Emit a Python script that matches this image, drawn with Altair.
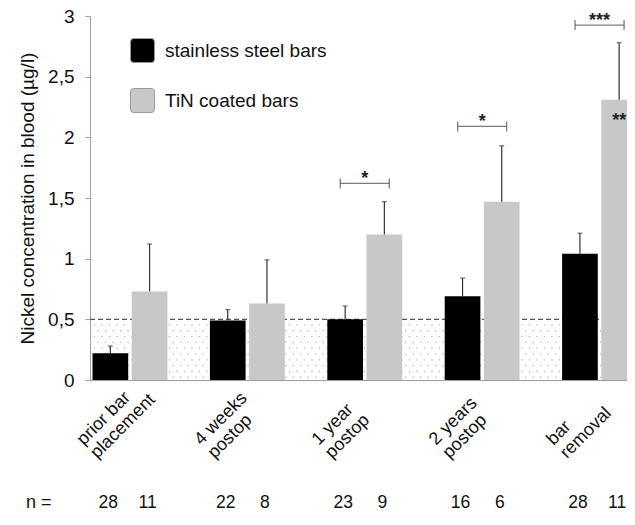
import altair as alt
import pandas as pd

# ---------------- data ----------------
groups = ["prior bar\nplacement", "4 weeks\npostop", "1 year\npostop",
          "2 years\npostop", "bar\nremoval"]
series = ["stainless steel bars", "TiN coated bars"]

steel_mean = [0.22, 0.49, 0.50, 0.69, 1.04]
steel_upper = [0.28, 0.58, 0.61, 0.84, 1.21]
tin_mean = [0.73, 0.63, 1.20, 1.47, 2.31]
tin_upper = [1.12, 0.99, 1.47, 1.93, 2.78]
steel_n = [28, 22, 23, 16, 28]
tin_n = [11, 8, 9, 6, 11]

threshold = [0.5]

sig_groups = ["1 year\npostop", "2 years\npostop", "bar\nremoval"]
sig_y = [1.62, 2.09, 2.925]
sig_text = ["*", "*", "***"]

inner_group = ["bar\nremoval"]
inner_series = ["TiN coated bars"]
inner_y = [2.09]
inner_text = ["**"]

y_ticks = [0, 0.5, 1, 1.5, 2, 2.5, 3]
y_title = "Nickel concentration in blood (µg/l)"

# ---------------- tables ----------------
bars = pd.DataFrame({
    "group": groups + groups,
    "series": [series[0]] * len(groups) + [series[1]] * len(groups),
    "mean": steel_mean + tin_mean,
    "upper": steel_upper + tin_upper,
    "n": steel_n + tin_n,
})
sig = pd.DataFrame({"group": sig_groups, "y": sig_y, "text": sig_text})
inner = pd.DataFrame({"group": inner_group, "series": inner_series,
                      "y": inner_y, "text": inner_text})
thr = pd.DataFrame({"y": threshold})
cats = pd.DataFrame({"group": groups})

FONT = "Liberation Sans"
W, H = 537, 364
XR = 547  # the x range runs past the right edge, as the reference is cropped

xs = alt.Scale(domain=groups, range=[0, XR], paddingInner=0.362,
               paddingOuter=0.0107, align=1)
xos = alt.Scale(domain=series, paddingInner=0.09, paddingOuter=0)
ys = alt.Scale(domain=[0, 3], nice=False, zero=True)

X = alt.X("group:N", scale=xs, sort=groups,
          axis=alt.Axis(labels=False, ticks=False, title=None, grid=False,
                        domainColor="#a0a0a0", domainWidth=1))
XO = alt.XOffset("series:N", scale=xos, sort=series)
Y = alt.Y("mean:Q", scale=ys,
          axis=alt.Axis(values=y_ticks, grid=False,
                        labelExpr="replace(toString(datum.value), '.', ',')",
                        labelFont=FONT, labelFontSize=19, labelColor="#111",
                        labelPadding=11, tickSize=5, tickColor="#a0a0a0",
                        domainColor="#a0a0a0", title=y_title,
                        titleFont=FONT, titleFontSize=19,
                        titleFontWeight="normal", titleColor="#111",
                        titlePadding=10))

# dotted texture below the 0.5 threshold
dots_a = alt.Chart(alt.sequence(0.022, 0.5, 0.096)).mark_rule(
    color="#b8b8b8", strokeWidth=1.3, strokeDash=[1.3, 6.2]
).encode(x=alt.value(0), x2=alt.value(XR), y=alt.Y("data:Q", scale=ys))
dots_b = alt.Chart(alt.sequence(0.07, 0.5, 0.096)).mark_rule(
    color="#b8b8b8", strokeWidth=1.3, strokeDash=[1.3, 6.2], strokeDashOffset=3.7
).encode(x=alt.value(0), x2=alt.value(XR), y=alt.Y("data:Q", scale=ys))

thr_line = alt.Chart(thr).mark_rule(
    color="#555", strokeWidth=1.1, strokeDash=[5, 3]
).encode(x=alt.value(0), x2=alt.value(XR), y=alt.Y("y:Q", scale=ys))

rounded = ("M-1,-0.72Q-1,-1,-0.72,-1L0.72,-1Q1,-1,1,-0.72L1,0.72Q1,1,0.72,1"
           "L-0.72,1Q-1,1,-1,0.72Z")

bar_layer = alt.Chart(bars).mark_bar().encode(
    x=X, xOffset=XO, y=Y,
    color=alt.Color("series:N", sort=series,
                    scale=alt.Scale(domain=series, range=["#000000", "#c8c8c8"]),
                    legend=alt.Legend(title=None, orient="none", legendX=40,
                                      legendY=22, symbolType=rounded,
                                      symbolSize=576, symbolStrokeWidth=1,
                                      symbolStrokeColor="#9a9a9a",
                                      labelFont=FONT, labelFontSize=19,
                                      labelColor="#111", labelOffset=10,
                                      labelLimit=0,
                                      rowPadding=21, padding=0,
                                      symbolOpacity=1)),
)

err = alt.Chart(bars).mark_rule(color="#333", strokeWidth=1.2).encode(
    x=X, xOffset=XO, y=alt.Y("mean:Q", scale=ys), y2="upper:Q")
caps = alt.Chart(bars).mark_tick(color="#333", size=5, thickness=1.2).encode(
    x=X, xOffset=XO, y=alt.Y("upper:Q", scale=ys))

br_h = alt.Chart(sig).mark_tick(color="#444", size=49, thickness=1.3).encode(
    x=X, y=alt.Y("y:Q", scale=ys))
br_l = alt.Chart(sig).mark_tick(color="#444", orient="vertical", size=10,
                                thickness=1.3, xOffset=-24.5).encode(
    x=X, y=alt.Y("y:Q", scale=ys))
br_r = alt.Chart(sig).mark_tick(color="#444", orient="vertical", size=10,
                                thickness=1.3, xOffset=24.5).encode(
    x=X, y=alt.Y("y:Q", scale=ys))
stars = alt.Chart(sig).mark_text(font=FONT, fontSize=18, fontWeight="bold",
                                 baseline="alphabetic", dy=1, color="#222").encode(
    x=X, y=alt.Y("y:Q", scale=ys), text="text:N")
inner_stars = alt.Chart(inner).mark_text(font=FONT, fontSize=18, fontWeight="bold",
                                         baseline="alphabetic", color="#222").encode(
    x=X, xOffset=alt.XOffset("series:N", scale=xos, sort=series),
    y=alt.Y("y:Q", scale=ys), text="text:N")

cat_labels = alt.Chart(cats).mark_text(
    font=FONT, fontSize=18, angle=315, align="left", baseline="top",
    lineBreak="\n", lineHeight=19, xOffset=-56, color="#111"
).encode(x=X, y=alt.value(420), text="group:N")

n_lab = alt.Chart(pd.DataFrame({"t": ["n ="]})).mark_text(
    font=FONT, fontSize=18, align="left", baseline="middle", color="#111"
).encode(x=alt.value(-64), y=alt.value(487), text="t:N")
n_vals = alt.Chart(bars).mark_text(
    font=FONT, fontSize=17.5, baseline="middle", color="#111", dx=-2
).encode(x=X, xOffset=XO, y=alt.value(487), text="n:Q")

chart = alt.layer(
    dots_a, dots_b, thr_line, bar_layer, err, caps, br_h, br_l, br_r,
    stars, inner_stars, cat_labels, n_lab, n_vals
).properties(
    width=W, height=H,
    autosize=alt.AutoSizeParams(type="none"),
    padding={"left": 82, "top": 8, "right": 0, "bottom": 137},
    background="white",
).configure_view(stroke=None)

chart.save("out.html", embed_options={"renderer": "svg", "actions": False})
